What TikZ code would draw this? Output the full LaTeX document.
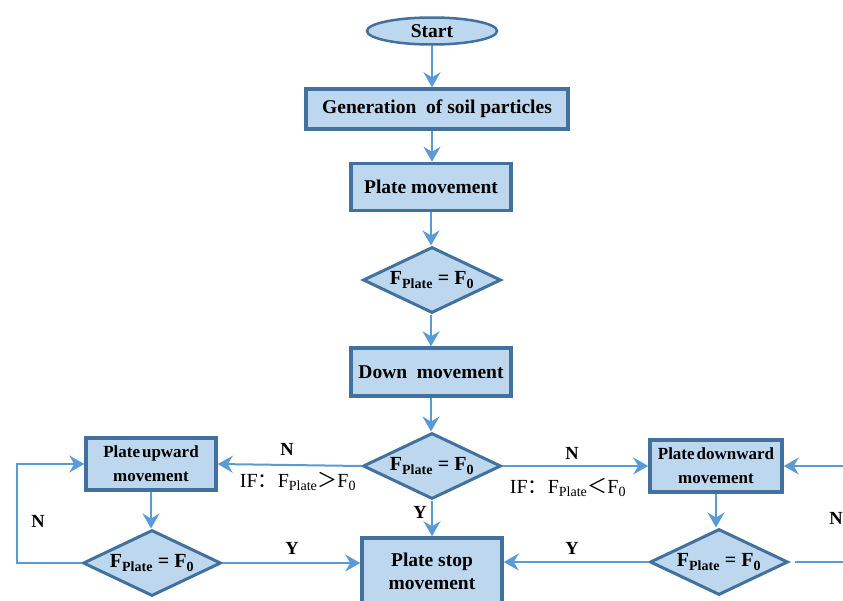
\documentclass[tikz,border=0pt]{standalone}
\usepackage{fontspec}
\setmainfont{Liberation Serif}
\newfontfamily\cjk{Noto Sans CJK SC}
\usetikzlibrary{shapes.geometric,arrows.meta}

\definecolor{boxfill}{RGB}{189,215,238}
\definecolor{boxline}{RGB}{65,113,156}
\definecolor{flowline}{RGB}{91,155,213}

\newcommand{\fplate}{F\textsubscript{Plate}}
\newcommand{\fzero}{F\textsubscript{0}}

\tikzset{
  stepbox/.style={draw=boxline, fill=boxfill, line width=3.5pt, align=center,
    inner sep=0pt, font=\bfseries\fontsize{19.5}{23}\selectfont},
  check/.style={diamond, aspect=2, draw=boxline, fill=boxfill, line width=3pt,
    minimum width=138pt, minimum height=66pt, inner sep=0pt,
    font=\bfseries\fontsize{20}{22}\selectfont},
  flow/.style={draw=flowline, line width=2pt,
    -{Stealth[length=15pt,width=17pt,inset=5pt]}},
  tag/.style={font=\bfseries\fontsize{18.5}{20}\selectfont},
  cond/.style={font=\fontsize{20}{22}\selectfont},
}

\begin{document}
\begin{tikzpicture}[x=1pt,y=-1pt]
\useasboundingbox (0,0) rectangle (843,600);
\clip (0,0) rectangle (843,600);

% main column
\node[ellipse, draw=boxline, fill=boxfill, line width=2.5pt, minimum width=130pt,
  minimum height=27pt, inner sep=0pt, font=\bfseries\fontsize{19.5}{22}\selectfont]
  (start) at (432,31) {Start};
\node[stepbox, minimum width=262pt, minimum height=40pt] (gen) at (437,109)
  {Generation\ \ of soil particles};
\node[stepbox, minimum width=160pt, minimum height=47pt] (move) at (431,187)
  {Plate movement};
\node[check] (chkA) at (432,280) {\fplate{} = \fzero};
\node[stepbox, minimum width=160pt, minimum height=48pt] (down) at (431,372)
  {Down\ \ movement};
\node[check] (chkB) at (432,466) {\fplate{} = \fzero};
\node[stepbox, minimum width=140pt, minimum height=66pt] (stop) at (432,571)
  {Plate stop\\movement};

% side branches
\node[stepbox, minimum width=130pt, minimum height=52pt,
  font=\bfseries\fontsize{17}{24}\selectfont] (up) at (151,464)
  {Plate\hspace{2pt}upward\\movement};
\node[check] (chkL) at (152,563) {\fplate{} = \fzero};
\node[stepbox, minimum width=132pt, minimum height=52pt,
  font=\bfseries\fontsize{17}{24}\selectfont] (dwn) at (716,466)
  {Plate\hspace{2pt}downward\\movement};
\node[check] (chkR) at (719,562) {\fplate{} = \fzero};

\coordinate (loopL) at (17,563);
\coordinate (loopR) at (860,562);

\draw[flow] (start.south) -- (start.south |- gen.north);
\draw[flow] (gen.south -| start.south) -- (start.south |- move.north);
\draw[flow] (move.south) -- (move.south |- chkA.north);
\draw[flow] (chkA.south -| move.south) -- (move.south |- down.north);
\draw[flow] (down.south) -- (down.south |- chkB.north);
\draw[flow] (chkB.south) -- (stop.north);
\draw[flow] (chkB.west) -- (up.east);
\draw[flow] (chkB.east) -- (dwn.west);
\draw[flow] (up.south) -- (up.south |- chkL.north);
\draw[flow] (dwn.south) -- (dwn.south |- chkR.north);
\draw[flow] (chkL.east) -- (chkL.east -| stop.west);
\draw[flow] (chkR.west) -- (chkR.west -| stop.east);
\draw[flow] (chkL.west) -- (loopL) |- (up.west);
\draw[flow] ([xshift=5pt]chkR.east) -- (loopR) |- (dwn.east);

% labels
\node[tag] (nA) at (287,449) {N};
\node[cond] (ifA) at (298,481) {IF{\cjk ：}\fplate{\cjk ＞}\fzero};
\node[tag] (nB) at (572,453) {N};
\node[cond] (ifB) at (568,487) {IF{\cjk ：}\fplate{\cjk ＜}\fzero};
\node[tag] (yB) at (420,512) {Y};
\node[tag] (yL) at (292,548) {Y};
\node[tag] (yR) at (572,548) {Y};
\node[tag] (nL) at (38,521) {N};
\node[tag] (nR) at (836,518) {N};

\end{tikzpicture}
\end{document}
